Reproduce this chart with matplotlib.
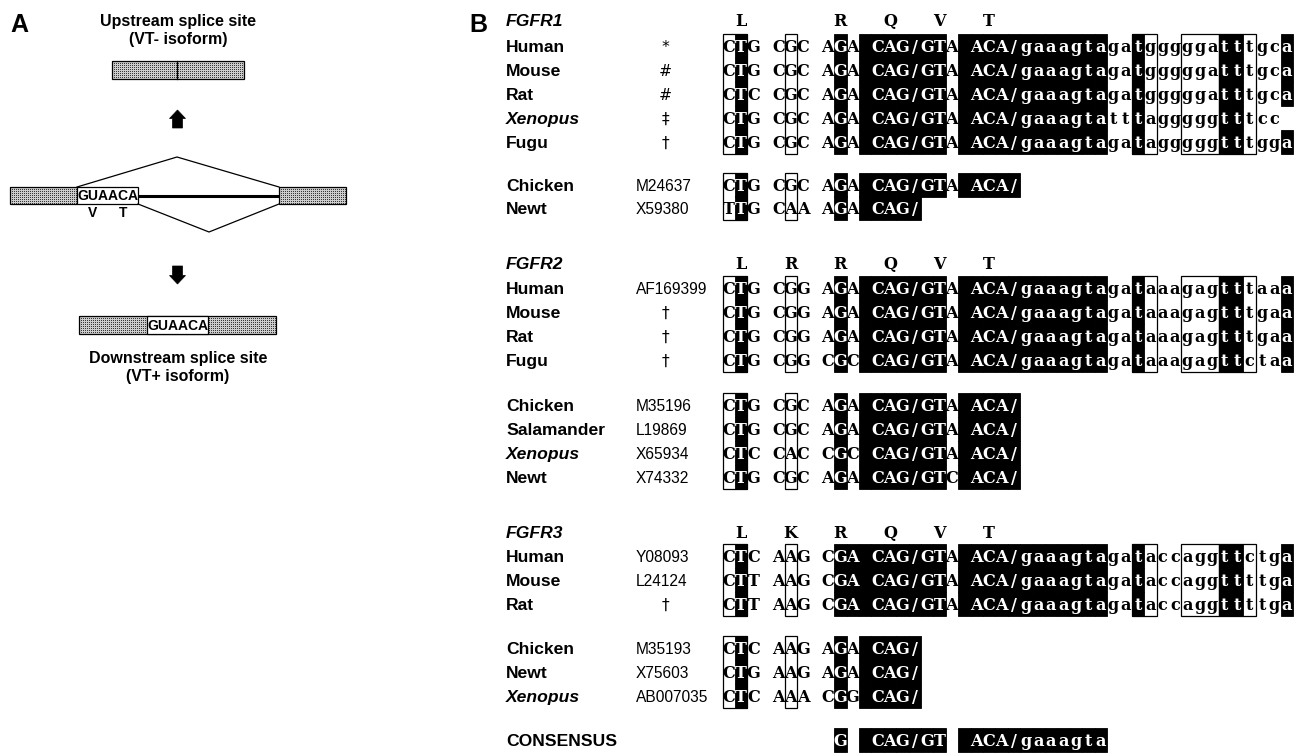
import numpy as np
import matplotlib
matplotlib.use("Agg")
import matplotlib.pyplot as plt
from matplotlib.patches import Rectangle, Polygon

# ---------------------------------------------------------------- data
# FGFR1 orthologues with intron sequence
fgfr1_species = ["Human", "Mouse", "Rat", "Xenopus", "Fugu"]
fgfr1_refs = ["*", "#", "#", "\u2021", "\u2020"]
fgfr1_seqs = [
    "CTG CGC AGA CAG/GTA ACA/gaaagtagatgggggatttgca",
    "CTG CGC AGA CAG/GTA ACA/gaaagtagatgggggatttgca",
    "CTC CGC AGA CAG/GTA ACA/gaaagtagatgggggatttgca",
    "CTG CGC AGA CAG/GTA ACA/gaaagtatttagggggtttcc",
    "CTG CGC AGA CAG/GTA ACA/gaaagtagatagggggtttgga",
]
fgfr1_aa = {1: "L", 9: "R", 13: "Q", 17: "V", 21: "T"}

# FGFR1 cDNA-only entries
fgfr1b_species = ["Chicken", "Newt"]
fgfr1b_refs = ["M24637", "X59380"]
fgfr1b_seqs = [
    "CTG CGC AGA CAG/GTA ACA/",
    "TTG CAA AGA CAG/",
]

# FGFR2
fgfr2_species = ["Human", "Mouse", "Rat", "Fugu"]
fgfr2_refs = ["AF169399", "\u2020", "\u2020", "\u2020"]
fgfr2_seqs = [
    "CTG CGG AGA CAG/GTA ACA/gaaagtagataaagagtttaaa",
    "CTG CGG AGA CAG/GTA ACA/gaaagtagataaagagtttgaa",
    "CTG CGG AGA CAG/GTA ACA/gaaagtagataaagagtttgaa",
    "CTG CGG CGC CAG/GTA ACA/gaaagtagataaagagttctaa",
]
fgfr2_aa = {1: "L", 5: "R", 9: "R", 13: "Q", 17: "V", 21: "T"}

fgfr2b_species = ["Chicken", "Salamander", "Xenopus", "Newt"]
fgfr2b_refs = ["M35196", "L19869", "X65934", "X74332"]
fgfr2b_seqs = [
    "CTG CGC AGA CAG/GTA ACA/",
    "CTG CGC AGA CAG/GTA ACA/",
    "CTC CAC CGC CAG/GTA ACA/",
    "CTG CGC AGA CAG/GTC ACA/",
]

# FGFR3
fgfr3_species = ["Human", "Mouse", "Rat"]
fgfr3_refs = ["Y08093", "L24124", "\u2020"]
fgfr3_seqs = [
    "CTC AAG CGA CAG/GTA ACA/gaaagtagataccaggttctga",
    "CTT AAG CGA CAG/GTA ACA/gaaagtagataccaggttttga",
    "CTT AAG CGA CAG/GTA ACA/gaaagtagataccaggttttga",
]
fgfr3_aa = {1: "L", 5: "K", 9: "R", 13: "Q", 17: "V", 21: "T"}

fgfr3b_species = ["Chicken", "Newt", "Xenopus"]
fgfr3b_refs = ["M35193", "X75603", "AB007035"]
fgfr3b_seqs = [
    "CTC AAG AGA CAG/",
    "CTG AAG AGA CAG/",
    "CTC AAA CGG CAG/",
]

consensus_seq = "         G  CAG/GT  ACA/gaaagta"

italic_names = {"Xenopus"}

# ---------------------------------------------------------------- canvas
W, H = 1301, 755
fig = plt.figure(figsize=(W / 100, H / 100), dpi=100)
ax = fig.add_axes([0, 0, 1, 1])
ax.axis("off")

PT = 72 / 100  # points per pixel

SANS = "Liberation Sans"
SEQ_FONT = "DejaVu Serif"

LABEL_FS = 12.6
ACC_FS = 11.2
SEQ_FS = 11.6


def baseline(yc, fs, cap=0.716):
    return yc + cap * fs / PT / 2


# ---------------------------------------------------------------- panel B
COL0 = 722.5
COLW = 12.4
ROWH = 24
LABEL_X = 506
ACC_X = 636
SYM_X = 665


def colx(c):
    return COL0 + c * COLW


def rng(a, b):
    return set(range(a, b + 1))


SHADE_FULL = {1, 9, 33, 40, 41, 45} | rng(11, 17) | rng(19, 30)
SHADE_FULL3 = {1, 33, 40, 41, 45} | rng(9, 17) | rng(19, 30)
SHADE_SHORT = {1, 9} | rng(11, 17) | rng(19, 23)
SHADE_SHORT3 = {1, 9} | rng(11, 15)
SHADE_CONS = {9} | rng(11, 17) | rng(19, 30)
BOX_FULL = [(0, 1), (5, 5), (33, 34), (37, 39), (40, 42)]
BOX_SHORT = [(0, 1), (5, 5)]


def draw_label(y, name, ref):
    style = "italic" if name in italic_names else "normal"
    ax.text(LABEL_X, baseline(y, LABEL_FS), name, fontsize=LABEL_FS,
            fontweight="bold", fontstyle=style, family=SANS,
            ha="left", va="baseline")
    if len(ref) > 1:
        ax.text(ACC_X, baseline(y, ACC_FS), ref, fontsize=ACC_FS,
                family=SANS, ha="left", va="baseline")
    else:
        ax.text(SYM_X, baseline(y, ACC_FS), ref, fontsize=ACC_FS,
                family="DejaVu Sans", ha="center", va="baseline")


def draw_block(ys, seqs, shade, boxes):
    for y, s in zip(ys, seqs):
        for c, ch in enumerate(s):
            if c in shade:
                ax.add_patch(Rectangle((colx(c), y - ROWH / 2), COLW, ROWH,
                                       facecolor="black", edgecolor="black",
                                       lw=0.6, zorder=1))
    top = ys[0] - ROWH / 2
    bot = ys[-1] + ROWH / 2
    for a, b in boxes:
        ax.add_patch(Rectangle((colx(a), top), colx(b + 1) - colx(a), bot - top,
                               facecolor="none", edgecolor="black", lw=0.9,
                               zorder=2))
    for y, s in zip(ys, seqs):
        for c, ch in enumerate(s):
            if ch == " ":
                continue
            color = "white" if c in shade else "black"
            ax.text(colx(c) + COLW / 2, baseline(y, SEQ_FS, 0.729), ch,
                    fontsize=SEQ_FS, fontweight="bold", family=SEQ_FONT,
                    color=color, ha="center", va="baseline", zorder=3)


def draw_header(y, gene, aa):
    ax.text(LABEL_X, baseline(y, LABEL_FS), gene, fontsize=LABEL_FS,
            fontweight="bold", fontstyle="italic", family=SANS,
            ha="left", va="baseline")
    for c, letter in aa.items():
        ax.text(colx(c) + COLW / 2, baseline(y, SEQ_FS, 0.729), letter,
                fontsize=SEQ_FS, fontweight="bold", family=SEQ_FONT,
                ha="center", va="baseline")


def draw_group(ys, species, refs, seqs, shade, boxes):
    for y, n, r in zip(ys, species, refs):
        draw_label(y, n, r)
    draw_block(ys, seqs, shade, boxes)


draw_header(20, "FGFR1", fgfr1_aa)
draw_group([46, 70, 94, 118, 142], fgfr1_species, fgfr1_refs, fgfr1_seqs,
           SHADE_FULL, BOX_FULL)
draw_group([185, 208], fgfr1b_species, fgfr1b_refs, fgfr1b_seqs,
           SHADE_SHORT, BOX_SHORT)

draw_header(263, "FGFR2", fgfr2_aa)
draw_group([288, 312, 336, 360], fgfr2_species, fgfr2_refs, fgfr2_seqs,
           SHADE_FULL, BOX_FULL)
draw_group([405, 429, 453, 477], fgfr2b_species, fgfr2b_refs, fgfr2b_seqs,
           SHADE_SHORT, BOX_SHORT)

draw_header(532, "FGFR3", fgfr3_aa)
draw_group([556, 580, 604], fgfr3_species, fgfr3_refs, fgfr3_seqs,
           SHADE_FULL3, BOX_FULL)
draw_group([648, 672, 696], fgfr3b_species, fgfr3b_refs, fgfr3b_seqs,
           SHADE_SHORT3, BOX_SHORT)

ax.text(LABEL_X, baseline(740, LABEL_FS), "CONSENSUS", fontsize=LABEL_FS,
        fontweight="bold", family=SANS, ha="left", va="baseline")
draw_block([740], [consensus_seq], SHADE_CONS, [])


# ---------------------------------------------------------------- panel A
def stipple_rect(x0, y0, x1, y1):
    w = int(round(x1 - x0))
    h = int(round(y1 - y0))
    ii, jj = np.indices((h, w))
    pat = np.where((ii % 2 == 0) & (jj % 2 == 0), 0.22, 0.8)
    ax.imshow(pat, cmap="gray", vmin=0, vmax=1, extent=(x0, x1, y1, y0),
              interpolation="nearest", aspect="auto", zorder=1)
    ax.add_patch(Rectangle((x0, y0), x1 - x0, y1 - y0, facecolor="none",
                           edgecolor="black", lw=0.9, zorder=2))


def white_box(x0, y0, x1, y1, text=None):
    ax.add_patch(Rectangle((x0, y0), x1 - x0, y1 - y0, facecolor="white",
                           edgecolor="black", lw=0.9, zorder=2))
    if text:
        ax.text((x0 + x1) / 2, baseline((y0 + y1) / 2, 10), text,
                fontsize=10, fontweight="bold", family=SANS,
                ha="center", va="baseline", zorder=3)


def block_arrow(xc, y_tail, y_tip):
    d = 1 if y_tip > y_tail else -1
    y_neck = y_tip - d * 8.5
    sw, hw = 5.0, 8.0
    ax.add_patch(Polygon([(xc - sw, y_tail), (xc - sw, y_neck), (xc - hw, y_neck),
                          (xc, y_tip), (xc + hw, y_neck), (xc + sw, y_neck),
                          (xc + sw, y_tail)],
                         closed=True, facecolor="black", edgecolor="black",
                         lw=0.5))


TITLE_FS = 11.5
ax.text(178, baseline(20, TITLE_FS), "Upstream splice site", fontsize=TITLE_FS,
        fontweight="bold", family=SANS, ha="center", va="baseline")
ax.text(178, baseline(38, TITLE_FS), "(VT- isoform)", fontsize=TITLE_FS,
        fontweight="bold", family=SANS, ha="center", va="baseline")

# spliced product without the VT codons
stipple_rect(112, 61, 244, 79)
ax.plot([177, 177], [61, 79], color="black", lw=0.9, zorder=3)

block_arrow(177.5, 128, 110)
block_arrow(177.5, 266, 284)

# pre-mRNA with the two alternative donor sites
stipple_rect(10, 187, 77, 204)
white_box(77, 187, 138, 204, "GUAACA")
stipple_rect(279, 187, 346, 204)
ax.plot([138, 279], [195.5, 195.5], color="black", lw=2.2, zorder=2,
        solid_capstyle="butt")
ax.plot([77, 177, 279], [187, 157, 187], color="black", lw=0.9)
ax.plot([138, 209, 279], [204, 232, 204], color="black", lw=0.9)
ax.text(93, baseline(212, 10), "V", fontsize=10, fontweight="bold",
        family=SANS, ha="center", va="baseline")
ax.text(123, baseline(212, 10), "T", fontsize=10, fontweight="bold",
        family=SANS, ha="center", va="baseline")

# spliced product retaining the VT codons
stipple_rect(79, 316, 276, 334)
white_box(147, 316, 208, 334, "GUAACA")

ax.text(178, baseline(357, TITLE_FS), "Downstream splice site",
        fontsize=TITLE_FS, fontweight="bold", family=SANS, ha="center",
        va="baseline")
ax.text(178, baseline(375, TITLE_FS), "(VT+ isoform)", fontsize=TITLE_FS,
        fontweight="bold", family=SANS, ha="center", va="baseline")

# panel letters
ax.text(10, baseline(23, 18), "A", fontsize=18, fontweight="bold",
        family=SANS, ha="left", va="baseline")
ax.text(469, baseline(23, 18), "B", fontsize=18, fontweight="bold",
        family=SANS, ha="left", va="baseline")

ax.set_xlim(0, W)
ax.set_ylim(H, 0)
fig.savefig("out.png", dpi=100, facecolor="white")
